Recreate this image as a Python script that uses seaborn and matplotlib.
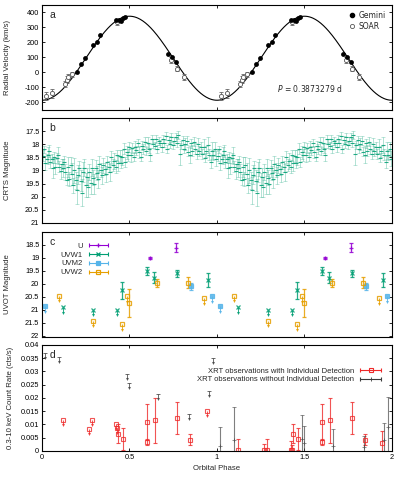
"""
Four-panel phase-folded light curve figure: radial velocity, CRTS,
Swift UVOT and Swift XRT, all plotted over two orbital cycles.
"""

import matplotlib
matplotlib.use("Agg")
import matplotlib.pyplot as plt
from matplotlib.lines import Line2D
from matplotlib.legend_handler import HandlerLine2D
from matplotlib.ticker import FuncFormatter
import numpy as np
import pandas as pd
import seaborn as sns

# ---------------- panel a: radial velocities ----------------
gemini_phase = [0.198, 0.221, 0.246, 0.290, 0.312, 0.331, 0.425, 0.440, 0.452,
                0.462, 0.475, 0.722, 0.741, 0.764]
gemini_rv = [5, 58, 98, 180, 202, 251, 350, 352, 345, 360, 372, 125, 102, 69]

soar_phase = [0.023, 0.059, 0.131, 0.141, 0.150, 0.170, 0.427, 0.735, 0.770, 0.813]
soar_rv = [-158, -138, -80, -48, -31, -13, 335, 80, 25, -31]
soar_err = [25, 30, 20, 22, 20, 18, 18, 20, 18, 22]

# sinusoidal orbit fit
RV_GAMMA = 95.0
RV_K = 280.0
PERIOD_LABEL = "0.3873279 d"

# ---------------- panel b: CRTS ----------------
crts_phase = [
    0.004, 0.012, 0.018, 0.027, 0.033, 0.041, 0.048, 0.055, 0.062, 0.068,
    0.077, 0.084, 0.091, 0.099, 0.106, 0.113, 0.121, 0.128, 0.134, 0.142,
    0.149, 0.156, 0.163, 0.171, 0.178, 0.185, 0.192, 0.199, 0.206, 0.213,
    0.221, 0.228, 0.235, 0.242, 0.249, 0.256, 0.264, 0.271, 0.278, 0.285,
    0.292, 0.299, 0.306, 0.313, 0.321, 0.328, 0.336, 0.343, 0.350, 0.358,
    0.366, 0.374, 0.381, 0.389, 0.397, 0.405, 0.413, 0.421, 0.429, 0.437,
    0.445, 0.452, 0.460, 0.468, 0.476, 0.484, 0.492, 0.500, 0.508, 0.516,
    0.524, 0.532, 0.540, 0.548, 0.556, 0.564, 0.572, 0.580, 0.588, 0.596,
    0.604, 0.612, 0.620, 0.628, 0.636, 0.644, 0.652, 0.660, 0.668, 0.676,
    0.684, 0.692, 0.700, 0.708, 0.716, 0.724, 0.732, 0.740, 0.748, 0.756,
    0.764, 0.772, 0.780, 0.788, 0.796, 0.804, 0.812, 0.820, 0.828, 0.836,
    0.844, 0.852, 0.860, 0.868, 0.876, 0.884, 0.892, 0.900, 0.908, 0.916,
    0.924, 0.932, 0.940, 0.948, 0.956, 0.964, 0.972, 0.980, 0.988, 0.996,
]
crts_mag = [
    18.43, 18.20, 18.72, 18.55, 18.42, 18.25, 18.67, 18.55, 18.92, 18.50,
    18.85, 18.53, 18.42, 18.85, 19.03, 18.75, 18.90, 18.68, 19.05, 19.35,
    18.88, 19.32, 18.80, 19.13, 19.57, 19.00, 19.38, 19.75, 19.17, 18.92,
    19.39, 19.85, 19.05, 18.90, 19.55, 19.24, 19.63, 19.07, 19.46, 18.90,
    19.28, 19.50, 18.92, 19.10, 19.32, 18.75, 18.97, 19.18, 18.80, 18.95,
    19.12, 18.69, 18.85, 19.07, 18.49, 18.80, 18.63, 18.85, 18.42, 18.73,
    18.45, 18.70, 18.50, 18.17, 18.68, 18.30, 18.42, 18.10, 18.42, 18.15,
    18.47, 18.10, 18.23, 17.95, 18.29, 18.47, 18.05, 18.18, 17.91, 18.25,
    17.94, 18.17, 18.40, 17.79, 17.98, 18.06, 17.80, 18.19, 17.88, 17.97,
    18.11, 17.80, 17.95, 17.69, 18.19, 17.83, 17.98, 17.73, 18.03, 17.88,
    17.74, 17.95, 17.66, 18.37, 18.03, 17.85, 18.17, 17.99, 17.86, 18.28,
    18.40, 17.97, 18.24, 17.90, 18.17, 18.38, 18.00, 18.25, 18.12, 18.38,
    18.10, 18.51, 18.27, 18.03, 18.40, 18.67, 18.24, 18.41, 18.18, 18.55,
]
crts_err = [
    0.20, 0.15, 0.28, 0.18, 0.32, 0.22, 0.25, 0.16, 0.38, 0.22,
    0.30, 0.18, 0.32, 0.22, 0.28, 0.20, 0.35, 0.24, 0.30, 0.22,
    0.38, 0.26, 0.32, 0.42, 0.28, 0.48, 0.32, 0.52, 0.36, 0.30,
    0.40, 0.52, 0.38, 0.32, 0.45, 0.32, 0.38, 0.30, 0.42, 0.32,
    0.28, 0.38, 0.32, 0.28, 0.35, 0.30, 0.26, 0.32, 0.28, 0.24,
    0.30, 0.26, 0.22, 0.32, 0.24, 0.22, 0.30, 0.24, 0.20, 0.28,
    0.22, 0.20, 0.28, 0.22, 0.18, 0.25, 0.22, 0.18, 0.25, 0.20,
    0.17, 0.22, 0.18, 0.16, 0.22, 0.18, 0.16, 0.20, 0.17, 0.15,
    0.20, 0.16, 0.25, 0.16, 0.18, 0.14, 0.17, 0.15, 0.16, 0.14,
    0.17, 0.14, 0.16, 0.14, 0.16, 0.14, 0.15, 0.17, 0.14, 0.16,
    0.15, 0.17, 0.16, 0.42, 0.15, 0.17, 0.16, 0.22, 0.17, 0.18,
    0.32, 0.17, 0.20, 0.18, 0.22, 0.17, 0.25, 0.18, 0.22, 0.20,
    0.28, 0.18, 0.22, 0.30, 0.20, 0.22, 0.32, 0.18, 0.25, 0.28,
]

# ---------------- panel c: UVOT ----------------
UVOT_FILTERS = ["U", "UVW1", "UVM2", "UVW2"]
u_phase = [0.617, 0.766]
u_mag = [19.02, 18.60]
u_err = [0.04, 0.17]
u_lim_phase = []
u_lim_mag = []

uvw1_phase = [0.459, 0.598, 0.640, 0.770, 0.947]
uvw1_mag = [20.25, 19.50, 19.76, 19.60, 19.86]
uvw1_err = [0.33, 0.16, 0.20, 0.15, 0.28]
uvw1_lim_phase = [0.118, 0.290, 0.427]
uvw1_lim_mag = [20.90, 21.00, 21.00]

uvm2_phase = [0.850]
uvm2_mag = [20.10]
uvm2_err = [0.15]
uvm2_lim_phase = [0.017, 0.970]
uvm2_lim_mag = [20.85, 20.48]

uvw2_phase = [0.499, 0.659, 0.836]
uvw2_mag = [20.74, 19.97, 19.95]
uvw2_err = [0.55, 0.17, 0.20]
uvw2_lim_phase = [0.099, 0.290, 0.459, 0.488, 0.927]
uvw2_lim_mag = [20.45, 21.42, 21.55, 20.48, 20.55]

# ---------------- panel d: XRT ----------------
det_phase = [0.436, 0.461, 0.600, 0.602, 0.644, 0.773, 0.847]
det_rate = [0.0065, 0.0044, 0.0109, 0.0034, 0.0116, 0.0125, 0.0043]
det_err = [0.0035, 0.0042, 0.0068, 0.0013, 0.0085, 0.0060, 0.0022]

# detected sources whose individual rate is only an upper limit
red_lim_phase = [0.118, 0.269, 0.288, 0.425, 0.430, 0.945]
red_lim_rate = [0.0116, 0.0083, 0.0116, 0.0102, 0.0088, 0.0152]
red_lim_meas = [0.0002, 0.0003, 0.0002, 0.0002, 0.0003, 0.0030]
red_lim_err = [0.0043, 0.0022, 0.0045, 0.0034, 0.0020, 0.0047]

# observations without individual detection
nd_phase = [0.019, 0.098, 0.487, 0.497, 0.662, 0.840, 0.952, 0.976]
nd_lim_rate = [0.0370, 0.0355, 0.0292, 0.0257, 0.0216, 0.0141, 0.0225, 0.0352]
nd_rate = [0.0020, 0.0040, 0.0045, 0.0030, 0.0020, 0.0015, 0.0040, 0.0090]
nd_err = [0.0070, 0.0125, 0.0090, 0.0065, 0.0063, 0.0040, 0.0066, 0.0114]

GREEN = "#009e73"
PURPLE = "#9400d3"
BLUE = "#56b4e9"
ORANGE = "#e69f00"
RED = "#ee2a2a"
GREY = "#3a3a3a"

sns.set_theme(style="ticks")
plt.rcParams["font.family"] = ["Liberation Sans", "DejaVu Sans"]
plt.rcParams.update({
    "axes.edgecolor": "black",
    "axes.linewidth": 0.8,
    "xtick.direction": "in",
    "ytick.direction": "in",
    "xtick.top": True,
    "ytick.right": True,
    "xtick.major.size": 2.5,
    "ytick.major.size": 2.5,
    "xtick.major.width": 0.6,
    "ytick.major.width": 0.6,
    "xtick.labelsize": 5.3,
    "ytick.labelsize": 5.3,
    "xtick.major.pad": 2.5,
    "ytick.major.pad": 2.0,
    "axes.labelsize": 5.6,
    "xtick.color": "black",
    "ytick.color": "black",
})

TICK_FMT = FuncFormatter(lambda v, _: f"{v:g}")


def two_cycles(*cols):
    """Repeat phase-folded arrays so they cover phases 0..2."""
    phase = np.asarray(cols[0], dtype=float)
    out = [np.concatenate([phase, phase + 1])]
    for c in cols[1:]:
        c = np.asarray(c, dtype=float)
        out.append(np.concatenate([c, c]))
    return out


def limit_arrows(ax, x, y, drop, color, cap=False, alpha=0.85):
    """Small downward arrows marking upper limits (drop is signed, data units)."""
    x = np.asarray(x, dtype=float)
    y = np.asarray(y, dtype=float)
    if x.size == 0:
        return
    ax.vlines(x, y, y + drop, color=color, lw=0.7, alpha=alpha)
    ax.plot(x, y + drop, ls="none", marker="v", ms=2.2, color=color,
            mew=0, alpha=alpha)
    if cap:
        ax.plot(x, y, ls="none", marker="_", ms=3, mew=0.7, color=color,
                alpha=alpha)


def errbar_handle(color, marker, **mkw):
    caps = Line2D([], [], color=color, lw=0.8, marker="|", ms=3.5, mew=0.8)
    mark = Line2D([], [], color=color, ls="none", marker=marker, ms=3, **mkw)
    return (caps, mark), {caps: HandlerLine2D(numpoints=2)}


def style_axis(ax, label, letter, show_x=False, label_x=-0.088):
    ax.set_xlim(0, 2)
    ax.set_xticks([0, 0.5, 1, 1.5, 2])
    ax.xaxis.set_major_formatter(TICK_FMT)
    ax.yaxis.set_major_formatter(TICK_FMT)
    if not show_x:
        ax.tick_params(axis="x", labelbottom=False)
    ax.set_ylabel(label)
    ax.yaxis.set_label_coords(label_x, 0.5)
    ax.text(0.022, 0.955, letter, transform=ax.transAxes, ha="left",
            va="top", fontsize=7.5)


fig = plt.figure(figsize=(3.99, 4.78), dpi=100)
L, W = 0.1053, 0.877
ax_a = fig.add_axes([L, 0.7699, W, 0.2197])
ax_b = fig.add_axes([L, 0.5335, W, 0.2197])
ax_c = fig.add_axes([L, 0.2950, W, 0.2197])
ax_d = fig.add_axes([L, 0.0565, W, 0.2218])

# ---- a ----
grid = np.linspace(0, 2, 400)
model = pd.DataFrame({"phase": grid,
                      "rv": RV_GAMMA - RV_K * np.cos(2 * np.pi * grid)})
sns.lineplot(data=model, x="phase", y="rv", color="black", lw=0.8, ax=ax_a)

sp, sv, se = two_cycles(soar_phase, soar_rv, soar_err)
ax_a.errorbar(sp, sv, yerr=se, fmt="o", ms=3, mfc="white", mec="#555555",
              mew=0.6, ecolor="#666666", elinewidth=0.6, capsize=1.3,
              capthick=0.6, zorder=3)
gp, gv = two_cycles(gemini_phase, gemini_rv)
sns.scatterplot(x=gp, y=gv, color="black", s=12, linewidth=0, ax=ax_a,
                zorder=4)
ax_a.set_ylim(-250, 450)
ax_a.set_yticks(range(-200, 401, 100))
style_axis(ax_a, "Radial Velocity (km/s)", "a")
ax_a.set_xlabel("")
ax_a.legend(
    [Line2D([], [], ls="none", marker="o", color="black", ms=3),
     Line2D([], [], ls="none", marker="o", mfc="white", mec="#555555",
            mew=0.6, ms=3)],
    ["Gemini", "SOAR"], loc="upper right", frameon=False,
    prop={"family": "DejaVu Sans", "size": 5.5}, handlelength=0.8,
    handletextpad=0.4, labelspacing=0.25, borderaxespad=0.4,
)
ax_a.text(0.86, 0.2, rf"$P$ = {PERIOD_LABEL}", transform=ax_a.transAxes,
          ha="right", va="center", fontsize=5.5, family="DejaVu Sans")

# ---- b ----
cp, cm, ce = two_cycles(crts_phase, crts_mag, crts_err)
ax_b.errorbar(cp, cm, yerr=ce, fmt="none", ecolor=GREEN, alpha=0.3,
              elinewidth=0.7, capsize=1.2, capthick=0.6)
ax_b.plot(cp, cm, ls="none", marker="_", ms=2.5, mew=0.8, color=GREEN,
          alpha=0.85)
ax_b.set_ylim(21, 17.0)
ax_b.set_yticks(np.arange(17.5, 21.01, 0.5))
style_axis(ax_b, "CRTS Magnitude", "b")

# ---- c ----
uvot = {
    "U": (u_phase, u_mag, u_err, u_lim_phase, u_lim_mag, PURPLE, "+", {}),
    "UVW1": (uvw1_phase, uvw1_mag, uvw1_err, uvw1_lim_phase, uvw1_lim_mag,
             GREEN, "x", {}),
    "UVM2": (uvm2_phase, uvm2_mag, uvm2_err, uvm2_lim_phase, uvm2_lim_mag,
             BLUE, "s", {}),
    "UVW2": (uvw2_phase, uvw2_mag, uvw2_err, uvw2_lim_phase, uvw2_lim_mag,
             ORANGE, "s", {"mfc": "none"}),
}
handles, hmap = [], {}
for name in UVOT_FILTERS:
    ph, mg, er, lph, lmg, col, mk, extra = uvot[name]
    p, m, e = two_cycles(ph, mg, er)
    ax_c.errorbar(p, m, yerr=e, fmt=mk, ms=3, mew=0.9, color=col,
                  elinewidth=0.9, capsize=1.5, capthick=0.8, alpha=0.85,
                  **extra)
    if lph:
        lp, lm = two_cycles(lph, lmg)
        ax_c.plot(lp, lm, ls="none", marker=mk, ms=3, mew=0.9, color=col,
                  alpha=0.85, **extra)
        limit_arrows(ax_c, lp, lm, 0.22, col)
    h, hm = errbar_handle(col, mk, mew=0.9, **extra)
    handles.append(h)
    hmap.update(hm)
ax_c.legend(handles, UVOT_FILTERS, handler_map=hmap, markerfirst=False,
            loc="upper right", bbox_to_anchor=(0.205, 0.93), frameon=False,
            fontsize=5.5, handlelength=3.2, handletextpad=0.5,
            labelspacing=0.2, borderaxespad=0)
ax_c.set_ylim(22.05, 18.0)
ax_c.set_yticks(np.arange(18.5, 22.01, 0.5))
style_axis(ax_c, "UVOT Magnitude", "c")

# ---- d ----
dp, dr, de = two_cycles(det_phase, det_rate, det_err)
ax_d.errorbar(dp, dr, yerr=de, fmt="s", ms=3.3, mfc="none", mec=RED,
              mew=0.8, color=RED, elinewidth=0.8, capsize=1.5, capthick=0.7,
              alpha=0.8)
# first cycle: upper limits, second cycle: measured values
rl = np.asarray(red_lim_phase)
ax_d.plot(rl, red_lim_rate, ls="none", marker="s", ms=3.3, mfc="none",
          mec=RED, mew=0.8, alpha=0.8)
limit_arrows(ax_d, rl, red_lim_rate, -0.0019, RED, alpha=0.8)
ax_d.errorbar(rl + 1, red_lim_meas, yerr=red_lim_err, fmt="s", ms=3.3,
              mfc="none", mec=RED, mew=0.8, color=RED, elinewidth=0.8,
              capsize=1.5, capthick=0.7, alpha=0.8)

nd = np.asarray(nd_phase)
limit_arrows(ax_d, nd, nd_lim_rate, -0.0019, GREY, cap=True, alpha=0.75)
ax_d.errorbar(nd + 1, nd_rate, yerr=nd_err, fmt="+", ms=3, mew=0.6,
              color=GREY, elinewidth=0.8, capsize=1.5, capthick=0.7,
              alpha=0.65)

ax_d.set_ylim(0, 0.04)
ax_d.set_yticks(np.arange(0, 0.04001, 0.005))
style_axis(ax_d, "0.3-10 keV Count Rate (cts/s)", "d", show_x=True,
           label_x=-0.08)
ax_d.yaxis.set_major_formatter(FuncFormatter(lambda v, _: f"{round(v, 4):g}"))
ax_d.set_xlabel("Orbital Phase", labelpad=2.5)

hr, hmr = errbar_handle(RED, "s", mfc="none", mew=0.8)
hg, hmg = errbar_handle(GREY, "+", mew=0.6)
hmr.update(hmg)
ax_d.legend([hr, hg],
            ["XRT observations with Individual Detection",
             "XRT observations without Individual Detection"],
            handler_map=hmr, markerfirst=False, loc="upper right",
            bbox_to_anchor=(0.985, 0.815), frameon=False, fontsize=5.5,
            handlelength=3.4, handletextpad=0.5, labelspacing=0.15,
            borderaxespad=0)

fig.savefig("out.png", dpi=100)
plt.close(fig)
